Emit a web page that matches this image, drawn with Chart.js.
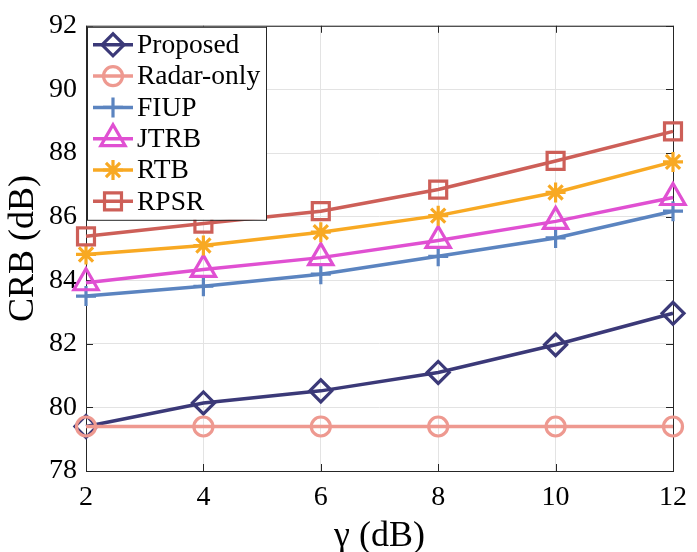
<!DOCTYPE html>
<html>
<head>
<meta charset="utf-8">
<script src="https://cdn.jsdelivr.net/npm/chart.js@4.4.1/dist/chart.umd.min.js"></script>
<style>
	html, body { margin: 0; padding: 0; background: #fff; }
	#wrap { width: 697px; height: 552px; }
</style>
</head>
<body>
<div id="wrap"><canvas id="crbChart" width="697" height="552"></canvas></div>
<script>
const gammaDb = [2, 4, 6, 8, 10, 12];
const xTicks = [2, 4, 6, 8, 10, 12];
const yTicks = [78, 80, 82, 84, 86, 88, 90, 92];

const seriesNames = ['Proposed', 'Radar-only', 'FIUP', 'JTRB', 'RTB', 'RPSR'];
const proposed = [79.40, 80.14, 80.52, 81.10, 81.97, 82.96];
const radarOnly = [79.40, 79.40, 79.40, 79.40, 79.40, 79.40];
const fiup = [83.50, 83.81, 84.19, 84.75, 85.33, 86.17];
const jtrb = [83.92, 84.34, 84.71, 85.25, 85.85, 86.60];
const rtb = [84.81, 85.09, 85.51, 86.03, 86.76, 87.72];
const rpsr = [85.38, 85.78, 86.17, 86.85, 87.75, 88.68];

const seriesValues = [proposed, radarOnly, fiup, jtrb, rtb, rpsr];
const seriesColors = ['#3b3978', '#ee9990', '#5b84c0', '#e050d2', '#f8a923', '#cd5f58'];
const seriesMarkers = ['rectRot', 'circle', 'cross', 'triangle', 'star', 'rect'];
const markerSizes = [11, 9.5, 10, 14, 10, 12];

const serif = '"Liberation Serif", "DejaVu Serif", serif';
const axisColor = '#262626';

const datasets = seriesNames.map((name, i) => ({
	label: name,
	data: gammaDb.map((g, k) => ({ x: g, y: seriesValues[i][k] })),
	borderColor: seriesColors[i],
	backgroundColor: 'rgba(0,0,0,0)',
	pointBorderColor: seriesColors[i],
	pointBackgroundColor: 'rgba(0,0,0,0)',
	pointStyle: seriesMarkers[i],
	pointRadius: markerSizes[i],
	pointBorderWidth: 3.2,
	borderWidth: 3.5,
	tension: 0,
	clip: false,
	order: seriesNames.length - i
}));

// axes box with inward ticks on all four sides
const framePlugin = {
	id: 'frame',
	beforeDatasetsDraw(chart) {
		const { ctx, chartArea: a, scales } = chart;
		ctx.save();
		ctx.strokeStyle = axisColor;
		ctx.lineWidth = 1;
		ctx.strokeRect(a.left + 0.5, a.top + 0.5, a.right - a.left, a.bottom - a.top);
		const len = 7;
		ctx.beginPath();
		xTicks.forEach(v => {
			const px = Math.round(scales.x.getPixelForValue(v)) + 0.5;
			ctx.moveTo(px, a.bottom); ctx.lineTo(px, a.bottom - len);
			ctx.moveTo(px, a.top); ctx.lineTo(px, a.top + len);
		});
		yTicks.forEach(v => {
			const py = Math.round(scales.y.getPixelForValue(v)) + 0.5;
			ctx.moveTo(a.left, py); ctx.lineTo(a.left + len, py);
			ctx.moveTo(a.right, py); ctx.lineTo(a.right - len, py);
		});
		ctx.stroke();
		ctx.restore();
	}
};

// MATLAB-style boxed legend in the upper-left corner
const boxLegendPlugin = {
	id: 'boxLegend',
	afterDraw(chart) {
		const { ctx, chartArea: a } = chart;
		const left = a.left + 1, top = a.top + 1;
		const w = 179, h = 193, rowH = 31.3;
		ctx.save();
		ctx.fillStyle = '#fff';
		ctx.fillRect(left, top, w, h);
		ctx.strokeStyle = axisColor;
		ctx.lineWidth = 1;
		ctx.strokeRect(left + 0.5, top + 0.5, w, h);
		ctx.font = '27.5px ' + serif;
		ctx.textBaseline = 'middle';
		chart.data.datasets.forEach((ds, i) => {
			const cy = top + 18 + i * rowH;
			ctx.strokeStyle = ds.borderColor;
			ctx.lineWidth = ds.borderWidth;
			ctx.beginPath();
			ctx.moveTo(left + 6, cy);
			ctx.lineTo(left + 46, cy);
			ctx.stroke();
			ctx.fillStyle = 'rgba(0,0,0,0)';
			ctx.lineWidth = ds.pointBorderWidth;
			Chart.helpers.drawPoint(ctx, {
				pointStyle: ds.pointStyle,
				rotation: 0,
				radius: ds.pointRadius,
				borderWidth: ds.pointBorderWidth
			}, left + 26, cy);
			ctx.fillStyle = '#000';
			ctx.fillText(ds.label, left + 50, cy + 1);
		});
		ctx.restore();
	}
};

new Chart(document.getElementById('crbChart').getContext('2d'), {
	type: 'line',
	data: { datasets: datasets },
	options: {
		responsive: false,
		animation: false,
		layout: { padding: { top: 24, right: 18, left: 0, bottom: 0 } },
		plugins: {
			legend: { display: false },
			tooltip: { enabled: false }
		},
		scales: {
			x: {
				type: 'linear',
				min: 2,
				max: 12,
				afterBuildTicks: scale => { scale.ticks = xTicks.map(v => ({ value: v })); },
				afterFit: scale => { scale.height = 81; },
				grid: { color: '#e3e3e3', lineWidth: 1, drawTicks: false },
				border: { display: false },
				ticks: {
					padding: 10,
					color: '#000',
					maxRotation: 0,
					font: { family: serif, size: 28 }
				},
				title: {
					display: true,
					text: 'γ (dB)',
					color: '#000',
					padding: { top: 0, bottom: -3 },
					font: { family: serif, size: 36, lineHeight: 1 }
				}
			},
			y: {
				type: 'linear',
				min: 78,
				max: 92,
				afterBuildTicks: scale => { scale.ticks = yTicks.map(v => ({ value: v })); },
				afterFit: scale => { scale.width = 86; },
				grid: { color: '#e3e3e3', lineWidth: 1, drawTicks: false },
				border: { display: false },
				ticks: {
					padding: 9,
					color: '#000',
					font: { family: serif, size: 28 }
				},
				title: {
					display: true,
					text: 'CRB (dB)',
					color: '#000',
					padding: { top: 6, bottom: 0 },
					font: { family: serif, size: 36, lineHeight: 1 }
				}
			}
		}
	},
	plugins: [framePlugin, boxLegendPlugin]
});
</script>
</body>
</html>
